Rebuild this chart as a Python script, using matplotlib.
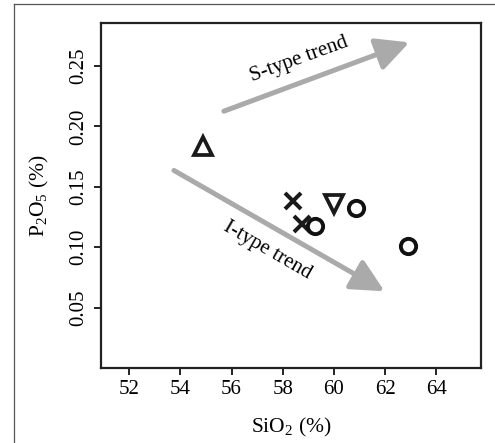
import matplotlib
matplotlib.use("Agg")
import matplotlib.pyplot as plt
from matplotlib.lines import Line2D

plt.rcParams['font.family'] = ['Liberation Serif', 'DejaVu Serif']
plt.rcParams['mathtext.fontset'] = 'custom'
plt.rcParams['mathtext.rm'] = 'Liberation Serif'
plt.rcParams['mathtext.it'] = 'Liberation Serif:italic'

# sample points, grouped by marker
tri_up_x = [54.9]
tri_up_y = [0.184]
tri_down_x = [60.0]
tri_down_y = [0.136]
cross_x = [58.4, 58.75]
cross_y = [0.138, 0.119]
circle_x = [59.25, 60.87, 62.88]
circle_y = [0.1175, 0.132, 0.101]

# trend arrows: (start, tip)
s_trend = [(55.7, 0.2125), (62.95, 0.2695)]
i_trend = [(53.75, 0.1635), (61.98, 0.0635)]

x_ticks = [52, 54, 56, 58, 60, 62, 64]
y_ticks = [0.05, 0.10, 0.15, 0.20, 0.25]

fig = plt.figure(figsize=(4.95, 4.43), dpi=100)
ax = fig.add_axes([101 / 495, 1 - 368 / 443, 380 / 495, 345 / 443])

# outer frame of the original figure panel
fig.add_artist(Line2D([14 / 495, 14 / 495], [0, 1 - 4 / 443], color='#555555', lw=0.9))
fig.add_artist(Line2D([14 / 495, 1], [1 - 4 / 443, 1 - 4 / 443], color='#555555', lw=0.9))

arrow_col = '#aaaaaa'
for (x0, y0), (x1, y1) in [s_trend, i_trend]:
    ax.annotate('', xy=(x1, y1), xytext=(x0, y0),
                arrowprops=dict(arrowstyle='-|>,head_length=2.0,head_width=1.0',
                                lw=3.6, color=arrow_col, shrinkA=0, shrinkB=0))

ax.text(58.65, 0.2555, 'S-type trend', rotation=20, ha='center', va='center', fontsize=15)
ax.text(57.4, 0.0975, 'I-type trend', rotation=-30, ha='center', va='center', fontsize=15)

ax.plot(tri_up_x, tri_up_y, linestyle='none', marker='^', ms=13, mfc='none', mec='#1a1a1a', mew=2.7)
ax.plot(tri_down_x, tri_down_y, linestyle='none', marker='v', ms=13, mfc='none', mec='#1a1a1a', mew=2.7)
ax.plot(cross_x, cross_y, linestyle='none', marker='x', ms=11, mec='#1a1a1a', mew=2.9)
ax.plot(circle_x, circle_y, linestyle='none', marker='o', ms=11, mfc='none', mec='#111111', mew=2.8)

ax.set_xlim(50.9, 65.75)
ax.set_ylim(0.0, 0.2855)
ax.set_xticks(x_ticks)
ax.set_yticks(y_ticks)
ax.set_xticklabels([str(t) for t in x_ticks])
ax.set_yticklabels(['%.2f' % t for t in y_ticks], rotation=90, va='center')
ax.tick_params(direction='out', length=5, width=1.4, labelsize=15, pad=4, color='#222222')
for s in ax.spines.values():
    s.set_linewidth(1.6)
    s.set_color('#222222')

ax.set_xlabel('SiO$_2$ (%)', fontsize=15.5, labelpad=12)
ax.set_ylabel('P$_2$O$_5$ (%)', fontsize=15.5, labelpad=13)

fig.savefig('out.png', dpi=100)
